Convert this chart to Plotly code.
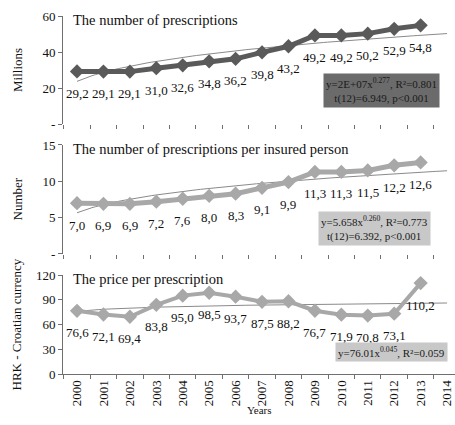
import numpy as np
import plotly.graph_objects as go
from plotly.subplots import make_subplots

# data
years = list(range(2000, 2014))
axis_years = list(range(2000, 2015))
prescriptions = [29.2, 29.1, 29.1, 31.0, 32.6, 34.8, 36.2, 39.8, 43.2, 49.2, 49.2, 50.2, 52.9, 54.8]
per_person = [7.0, 6.9, 6.9, 7.2, 7.6, 8.0, 8.3, 9.1, 9.9, 11.3, 11.3, 11.5, 12.2, 12.6]
price = [76.6, 72.1, 69.4, 83.8, 95.0, 98.5, 93.7, 87.5, 88.2, 76.7, 71.9, 70.8, 73.1, 110.2]

titles = ["The number of prescriptions",
          "The number of prescriptions per insured person",
          "The price per prescription"]
y_titles = ["Millions", "Number", "HRK - Croatian currency"]
fit_texts = ["y=2E+07x<sup>0.277</sup>, R²=0.801<br>t(12)=6.949, p<0.001",
             "y=5.658x<sup>0.260</sup>, R²=0.773<br>t(12)=6.392, p<0.001",
             "y=76.01x<sup>0.045</sup>, R²=0.059"]

SERIF = "Liberation Serif"


def power_trend(values, n_periods):
    """Excel style power trendline y = a*x^b, x = 1..n, extended to n_periods"""
    x = np.arange(1, len(values) + 1)
    b, log_a = np.polyfit(np.log(x), np.log(values), 1)
    t = np.linspace(1, n_periods, 100)
    return years[0] - 1 + t, np.exp(log_a) * t ** b


fig = make_subplots(rows=3, cols=1, shared_xaxes=True)

series = [prescriptions, per_person, price]
line_colors = ["#5a5a5a", "#a8a8a8", "#a8a8a8"]
widths = [5, 5, 4]
for i, vals in enumerate(series):
    tx, ty = power_trend(vals, len(axis_years))
    fig.add_trace(go.Scatter(x=tx, y=ty, mode="lines",
                             line=dict(color="#8a8a8a", width=1),
                             hoverinfo="skip"), row=i + 1, col=1)
    fig.add_trace(go.Scatter(x=years, y=vals, mode="lines+markers",
                             line=dict(color=line_colors[i], width=widths[i]),
                             marker=dict(symbol="diamond", size=11, color=line_colors[i])),
                  row=i + 1, col=1)
    # data labels below the points, decimal comma
    for yr, v in zip(years, vals):
        fig.add_annotation(x=yr, y=v, xref=f"x{i + 1}" if i else "x",
                           yref=f"y{i + 1}" if i else "y",
                           text=f"{v:.1f}".replace(".", ","), showarrow=False,
                           yshift=-22, font=dict(family=SERIF, size=13, color="#111"))

domains = [[0.6983, 1.0], [0.3352, 0.6397], [0.0, 0.2765]]
ranges = [[0, 60], [0, 15], [0, 120]]
tickvals = [[0, 20, 40, 60], [0, 5, 10, 15], [0, 30, 60, 90, 120]]
ticktext = [["-", "20", "40", "60"], ["-", "5", "10", "15"], ["0", "30", "60", "90", "120"]]

for i in range(3):
    fig.update_yaxes(row=i + 1, col=1, domain=domains[i], range=ranges[i],
                     tickvals=tickvals[i], ticktext=ticktext[i], automargin=False,
                     showline=True, linecolor="#6f6f6f", linewidth=1,
                     ticks="outside", ticklen=4, tickcolor="#6f6f6f",
                     showgrid=False, zeroline=False,
                     tickfont=dict(family=SERIF, size=13, color="#111"))
    fig.update_xaxes(row=i + 1, col=1, range=[1999.47, 2014.3], showgrid=False,
                     zeroline=False, showline=(i == 2), linecolor="#6f6f6f",
                     automargin=False,
                     tickvals=axis_years, ticktext=[str(y) for y in axis_years],
                     ticks="", showticklabels=(i == 2), tickangle=-90,
                     tickfont=dict(family=SERIF, size=13, color="#111"),
                     minor=dict(tickvals=[y - 0.5 for y in axis_years],
                                ticks="outside", ticklen=4, tickcolor="#6f6f6f"))

    ymid = (domains[i][0] + domains[i][1]) / 2
    fig.add_annotation(xref="paper", yref="paper", x=0, y=ymid, xshift=-46,
                       xanchor="center", yanchor="middle",
                       text=y_titles[i], textangle=-90, showarrow=False,
                       font=dict(family=SERIF, size=13, color="#111"))
    fig.add_annotation(xref="paper", yref="paper", x=0, y=domains[i][1], xshift=8,
                       xanchor="left", yanchor="middle", yshift=-4,
                       text=titles[i], showarrow=False,
                       font=dict(family=SERIF, size=14.5, color="#111"))

# fit boxes
box_pos = [(0.9617, 0.7917, "#6b6b6b"), (0.9388, 0.4078, "#c8c8c8"), (0.982, 0.0601, "#c8c8c8")]
for (bx, by, bg), txt in zip(box_pos, fit_texts):
    fig.add_annotation(xref="paper", yref="paper", x=bx, y=by, xanchor="right",
                       yanchor="middle", text=txt, showarrow=False, align="center",
                       bgcolor=bg, borderpad=2,
                       font=dict(family=SERIF, size=11, color="#1a1a1a"))

fig.add_annotation(xref="paper", yref="paper", x=0.5, y=0, yshift=-44,
                   text="Years", showarrow=False,
                   font=dict(family=SERIF, size=11, color="#111"))

fig.update_layout(width=455, height=425, showlegend=False,
                  plot_bgcolor="white", paper_bgcolor="white",
                  margin=dict(l=63, r=0, t=16, b=51, autoexpand=False))

# the page body has a default 8px margin; drop it so the figure fills the window
fig.write_html("out.html", config={"displayModeBar": False},
               post_script="document.body.style.margin = '0';")
